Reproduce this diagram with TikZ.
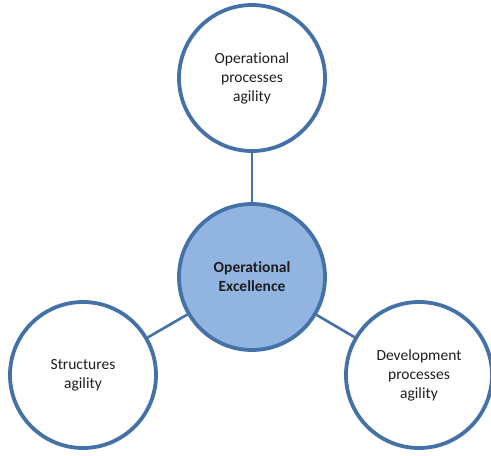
\documentclass[tikz,border=0pt]{standalone}
\usepackage{fontspec}
\setmainfont[Ligatures=NoCommon]{Carlito}
\definecolor{ringblue}{RGB}{68,114,168}
\definecolor{hubfill}{RGB}{145,180,225}
\definecolor{txt}{RGB}{30,30,30}
\begin{document}
\begin{tikzpicture}[x=1pt,y=-1pt,
  ring/.style={circle,draw=ringblue,line width=3.8pt,minimum size=146pt,inner sep=0pt,align=center,font=\fontsize{15.5}{19}\selectfont,text=txt},
  link/.style={draw=ringblue,line width=2.6pt}]
\useasboundingbox (0,0) rectangle (491,456);
\node[ring,fill=hubfill,font=\fontsize{15.5}{19}\selectfont\bfseries] (hub) at (252,277) {Operational\\Excellence};
\node[ring,fill=white] (top) at (252,78) {Operational\\processes\\agility};
\node[ring,fill=white] (left) at (83,375) {Structures\\agility};
\node[ring,fill=white] (right) at (419,375) {Development\\processes\\agility};
\draw[link] (hub) -- (top);
\draw[link] (hub) -- (left);
\draw[link] (hub) -- (right);
\end{tikzpicture}
\end{document}
